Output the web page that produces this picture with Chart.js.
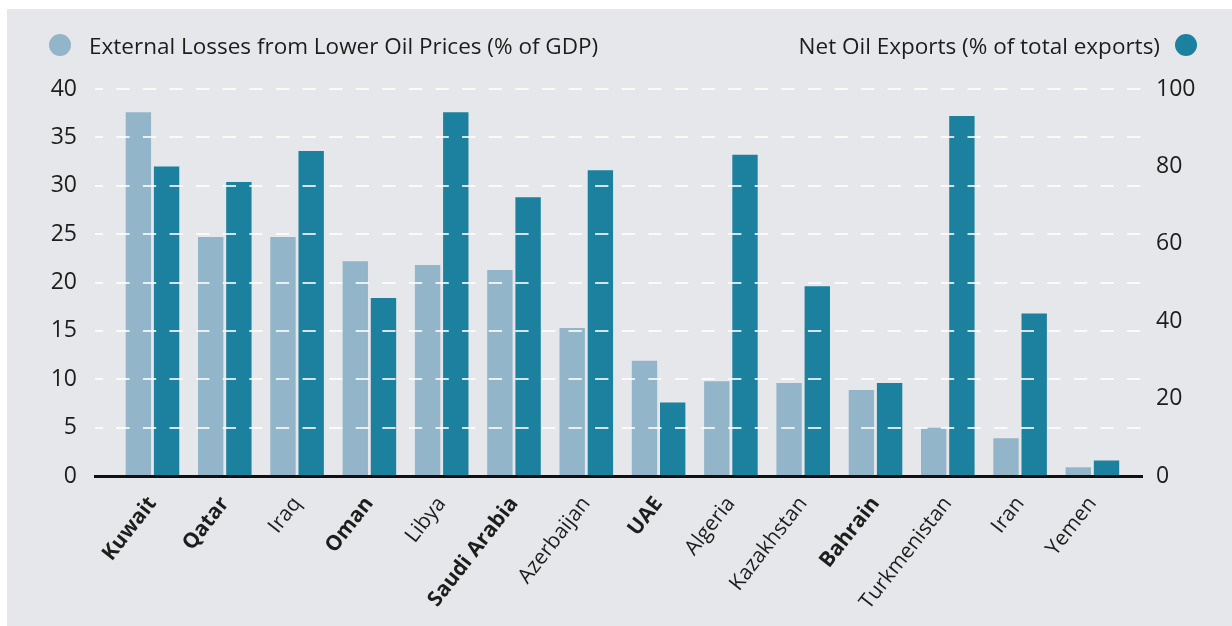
<!DOCTYPE html>
<html>
<head>
<meta charset="utf-8">
<script src="https://cdn.jsdelivr.net/npm/chart.js@4"></script>
<style>
  html, body { margin: 0; padding: 0; background: #fff; }
  #panel { position: absolute; left: 7px; top: 9px; width: 1225px; height: 617px; background: #e6e7eb; }
  #chart { position: absolute; left: 0; top: 0; }
  .legend { position: absolute; top: 21px; height: 30px; font-family: 'Open Sans'; font-size: 22.5px; color: #1d1d1b; display: flex; align-items: center; white-space: nowrap; }
  .dot { width: 22px; height: 22px; border-radius: 50%; }
</style>
</head>
<body>
<div id="panel">
  <canvas id="chart" width="1225" height="617"></canvas>
  <div class="legend" id="legLeft" style="left:42px"><span class="dot" style="background:#92b5c9;margin-right:18px"></span><span id="legLeftText"></span></div>
  <div class="legend" id="legRight" style="right:35px"><span id="legRightText"></span><span class="dot" style="background:#1b819e;margin-left:15px"></span></div>
</div>
<script>
// data
const countries = ['Kuwait', 'Qatar', 'Iraq', 'Oman', 'Libya', 'Saudi Arabia', 'Azerbaijan',
  'UAE', 'Algeria', 'Kazakhstan', 'Bahrain', 'Turkmenistan', 'Iran', 'Yemen'];
const boldCountries = ['Kuwait', 'Qatar', 'Oman', 'Saudi Arabia', 'UAE', 'Bahrain'];
const lossGdp = [37.6, 24.7, 24.7, 22.2, 21.8, 21.3, 15.3, 11.9, 9.8, 9.6, 8.9, 5.0, 3.9, 0.9];
const oilExports = [80, 76, 84, 46, 94, 72, 79, 19, 83, 49, 24, 93, 42, 4];
const lossLabel = 'External Losses from Lower Oil Prices (% of GDP)';
const exportLabel = 'Net Oil Exports (% of total exports)';
const leftMax = 40, leftStep = 5;
const rightMax = 100, rightStep = 20;

const lightBlue = '#92b5c9';
const darkBlue = '#1b819e';
const font = 'Open Sans';

document.getElementById('legLeftText').textContent = lossLabel;
document.getElementById('legRightText').textContent = exportLabel;

const ctx = document.getElementById('chart').getContext('2d');

new Chart(ctx, {
  type: 'bar',
  data: {
    datasets: [{
      label: lossLabel,
      data: lossGdp.map((v, i) => ({ x: i, y: v })),
      backgroundColor: lightBlue,
      yAxisID: 'y'
    }, {
      label: exportLabel,
      data: oilExports.map((v, i) => ({ x: i, y: v })),
      backgroundColor: darkBlue,
      yAxisID: 'y1'
    }]
  },
  options: {
    responsive: false,
    animation: false,
    layout: { padding: { top: 80, left: 0, right: 0, bottom: 0 } },
    categoryPercentage: 0.78,
    barPercentage: 0.9,
    plugins: { legend: { display: false }, tooltip: { enabled: false } },
    scales: {
      x: {
        type: 'linear',
        offset: false,
        min: -0.795,
        max: 13.686,
        afterBuildTicks: s => { s.ticks = countries.map((c, i) => ({ value: i })); },
        afterFit: s => { s.height = 150; },
        grid: { display: false },
        border: { display: true, color: '#111', width: 3, z: 2 },
        ticks: {
          autoSkip: false,
          minRotation: 52,
          maxRotation: 52,
          padding: 8,
          color: '#1d1d1b',
          callback: (v, i) => countries[i],
          font: c => ({
            family: font,
            size: 21,
            weight: boldCountries.includes(countries[c.index]) ? 'bold' : 'normal'
          })
        }
      },
      y: {
        position: 'left',
        min: 0,
        max: leftMax,
        afterFit: s => { s.width = 88; },
        grid: {
          z: 1,
          lineWidth: 2,
          drawTicks: false,
          color: c => c.tick && c.tick.value === 0 ? 'rgba(0,0,0,0)' : 'rgba(255,255,255,0.8)'
        },
        border: { display: false, dash: [13.3, 13.3], dashOffset: 5.3 },
        ticks: { stepSize: leftStep, padding: 18, color: '#1d1d1b', font: { family: font, size: 23 } }
      },
      y1: {
        position: 'right',
        min: 0,
        max: rightMax,
        afterFit: s => { s.width = 90; },
        grid: { drawOnChartArea: false, drawTicks: false },
        border: { display: false },
        ticks: { stepSize: rightStep, padding: 14, color: '#1d1d1b', font: { family: font, size: 23 } }
      }
    }
  }
});
</script>
</body>
</html>
